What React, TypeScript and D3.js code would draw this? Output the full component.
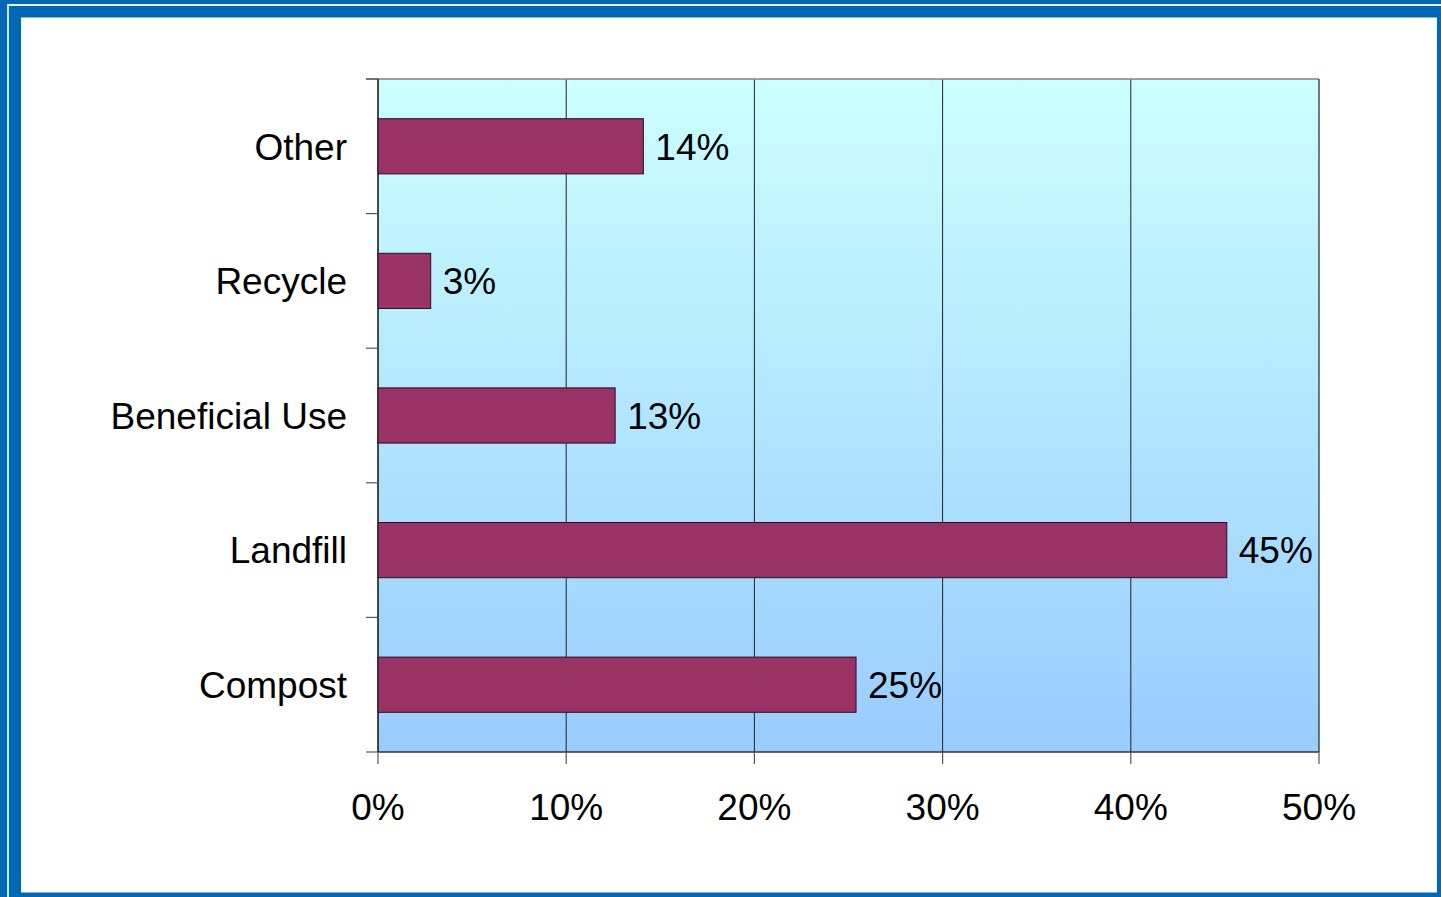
import React from "react";
import * as d3 from "d3";

const categories = ["Other", "Recycle", "Beneficial Use", "Landfill", "Compost"];
const values = [14.1, 2.8, 12.6, 45.1, 25.4];
const valueLabels = ["14%", "3%", "13%", "45%", "25%"];
const xTicks = [0, 10, 20, 30, 40, 50];

export default function App() {
  const W = 1441, H = 897;
  const left = 378, right = 1319, top = 79, bottom = 752;
  const x = d3.scaleLinear().domain([0, 50]).range([left, right]);
  const y = d3.scaleBand().domain(categories).range([top, bottom]).paddingInner(0.59).paddingOuter(0.295);
  const band = (bottom - top) / categories.length;
  const font = "'Liberation Sans', Arial, sans-serif";
  const blue = "#0068B4";
  return (
    <svg width={W} height={H} style={{ position: "fixed", left: 0, top: 0 }} fontFamily={font}>
      <defs>
        <linearGradient id="bg" x1="0" y1="0" x2="0" y2="1">
          <stop offset="0" stopColor="#CCFFFF" />
          <stop offset="1" stopColor="#99CCFF" />
        </linearGradient>
      </defs>
      <rect x={0} y={0} width={W} height={H} fill={blue} />
      <path d={`M8,${H} V5 H${W}`} fill="none" stroke="#E8F0F8" strokeWidth={1.8} />
      <rect x={21} y={17.5} width={1437 - 21} height={892.5 - 17.5} fill="#ffffff" />
      <rect x={left} y={top} width={right - left} height={bottom - top} fill="url(#bg)" />
      {xTicks.slice(1, -1).map((t) => (
        <line key={t} x1={x(t)} x2={x(t)} y1={top} y2={bottom} stroke="#222" strokeWidth={1} />
      ))}
      <line x1={366} x2={right} y1={top} y2={top} stroke="#808080" strokeWidth={1.5} />
      <line x1={right} x2={right} y1={top} y2={bottom} stroke="#222" strokeWidth={1.2} />
      <line x1={left} x2={right} y1={bottom} y2={bottom} stroke="#333" strokeWidth={1.5} />
      <line x1={left} x2={left} y1={top} y2={bottom} stroke="#111" strokeWidth={1.5} />
      {d3.range(categories.length + 1).map((i) => (
        <line key={i} x1={366} x2={left} y1={top + i * band} y2={top + i * band} stroke="#555" strokeWidth={1.2} />
      ))}
      {xTicks.map((t) => (
        <line key={t} x1={x(t)} x2={x(t)} y1={bottom} y2={764} stroke="#555" strokeWidth={1.2} />
      ))}
      {categories.map((c, i) => (
        <g key={c}>
          <rect x={x(0)} y={y(c)!} width={x(values[i]) - x(0)} height={y.bandwidth()} fill="#993366" stroke="#2a1020" strokeWidth={1} />
          <text x={x(values[i]) + 12} y={y(c)! + y.bandwidth() / 2} dy="0.36em" fontSize={37} fill="#000">{valueLabels[i]}</text>
          <text x={347} y={y(c)! + y.bandwidth() / 2} dy="0.36em" fontSize={37} textAnchor="end" fill="#000">{c}</text>
        </g>
      ))}
      {xTicks.map((t) => (
        <text key={t} x={x(t)} y={820} fontSize={37} textAnchor="middle" fill="#000">{t}%</text>
      ))}
    </svg>
  );
}
